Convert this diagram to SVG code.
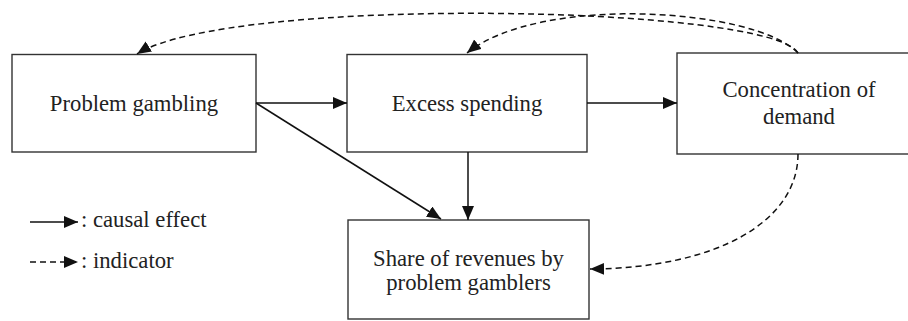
<svg xmlns="http://www.w3.org/2000/svg" width="908" height="321" viewBox="0 0 908 321">
<style>
.box{fill:#fff;stroke:#333;stroke-width:1.4}
.t{font-family:"Liberation Serif","Times New Roman",Times,"DejaVu Serif","Noto Serif",serif;font-size:22.7px;fill:#222;text-anchor:middle}
.lt{font-family:"Liberation Serif","Times New Roman",Times,"DejaVu Serif","Noto Serif",serif;font-size:22.7px;fill:#222}
.c{fill:none;stroke:#111;stroke-width:1.5}
.d{fill:none;stroke:#111;stroke-width:1.5;stroke-dasharray:6,4}
</style>
<defs>
<marker id="ah" markerUnits="userSpaceOnUse" markerWidth="15" markerHeight="13" refX="14" refY="6" orient="auto">
<path d="M0,0 L14,6 L0,12 z" fill="#111"/>
</marker>
</defs>
<rect width="908" height="321" fill="#fff"/>
<g id="problem-gambling">
<rect class="box" x="12" y="54.5" width="244" height="97.5"/>
<text class="t" x="134" y="111">Problem gambling</text>
</g>
<g id="excess-spending">
<rect class="box" x="347" y="54.5" width="240" height="97.5"/>
<text class="t" x="467" y="111">Excess spending</text>
</g>
<g id="concentration">
<rect class="box" x="677" y="53" width="245" height="101"/>
<text class="t" x="799" y="97">Concentration of</text>
<text class="t" x="799" y="124">demand</text>
</g>
<g id="share">
<rect class="box" x="348" y="220" width="241" height="99"/>
<text class="t" x="468.5" y="266">Share of revenues by</text>
<text class="t" x="468.5" y="290">problem gamblers</text>
</g>
<g id="connectors">
<line class="c" x1="256" y1="103" x2="347" y2="103" marker-end="url(#ah)"/>
<line class="c" x1="256" y1="103" x2="441" y2="219" marker-end="url(#ah)"/>
<line class="c" x1="468" y1="152" x2="468" y2="220" marker-end="url(#ah)"/>
<line class="c" x1="587" y1="103" x2="677" y2="103" marker-end="url(#ah)"/>
<path class="d" d="M798,53 C770,5 230,-5 137,54" marker-end="url(#ah)"/>
<path class="d" d="M798,53 C755,8 540,-6 467,53" marker-end="url(#ah)"/>
<path class="d" d="M798,154 C798,220 720,268 590,269" marker-end="url(#ah)"/>
</g>
<g id="legend">
<line class="c" x1="30" y1="222" x2="78" y2="222" marker-end="url(#ah)"/>
<text class="lt" x="81" y="227">: causal effect</text>
<line class="d" x1="30" y1="262" x2="78" y2="262" marker-end="url(#ah)"/>
<text class="lt" x="81" y="268">: indicator</text>
</g>
</svg>
